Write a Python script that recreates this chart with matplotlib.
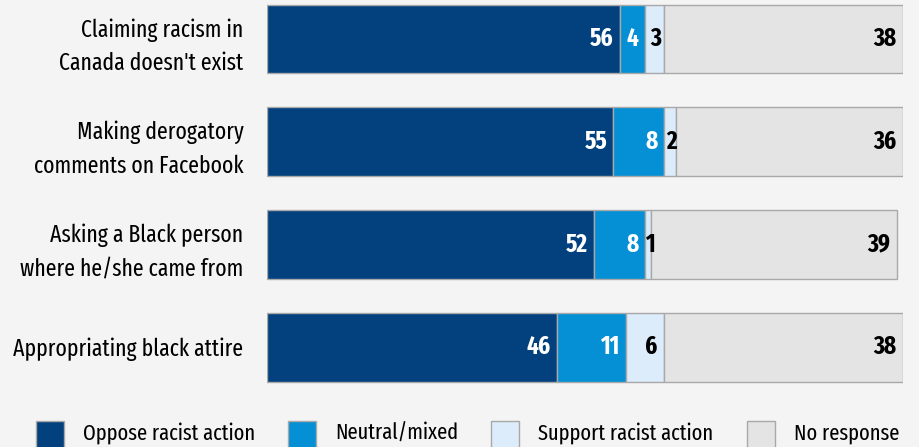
import matplotlib
matplotlib.use("Agg")
import matplotlib.pyplot as plt
from matplotlib import font_manager
from matplotlib.patches import Rectangle

# data
categories = [
    "Claiming racism in\nCanada doesn't exist",
    "Making derogatory\ncomments on Facebook",
    "Asking a Black person\nwhere he/she came from",
    "Appropriating black attire",
]
series_names = ["Oppose racist action", "Neutral/mixed", "Support racist action", "No response"]
oppose = [56, 55, 52, 46]
neutral = [4, 8, 8, 11]
support = [3, 2, 1, 6]
no_response = [38, 36, 39, 38]

colors = ["#02407e", "#0590d6", "#dcecfb", "#e4e4e4"]
label_colors = ["white", "white", "black", "black"]

# condensed face, closest to the original's Myriad Condensed
available = {f.name for f in font_manager.fontManager.ttflist}
family = "DejaVu Sans"
for name in ["Myriad Pro Cond", "Fira Sans Extra Condensed", "Fira Sans Condensed",
             "PT Sans Narrow", "Open Sans Condensed", "Roboto Condensed",
             "Liberation Sans Narrow", "Archivo Narrow"]:
    if name in available:
        family = name
        break
plt.rcParams["font.family"] = [family, "DejaVu Sans"]

bg = "#f4f4f4"
W, H = 920, 447
fig = plt.figure(figsize=(W / 100, H / 100), dpi=100, facecolor=bg)
ax = fig.add_axes([267 / W, 1 - 400 / H, (903 - 267) / W, 400 / H])
ax.set_facecolor(bg)

values = [oppose, neutral, support, no_response]
ypos = list(range(len(categories)))
left = [0] * len(categories)
for vals, col, lcol in zip(values, colors, label_colors):
    bars = ax.barh(ypos, vals, left=left, height=0.67, color=col,
                   edgecolor="#a8a8a8", linewidth=1.0)
    for b, v in zip(bars, vals):
        yc = b.get_y() + b.get_height() / 2
        if v <= 3:
            # too thin for the number: centre it on the segment
            ax.annotate(str(v), (b.get_x() + b.get_width() / 2, yc), xytext=(1, 0),
                        textcoords="offset points", ha="center", va="center",
                        color=lcol, fontsize=18, fontweight="bold")
        else:
            ax.annotate(str(v), (b.get_x() + b.get_width(), yc), xytext=(-4.5, 0),
                        textcoords="offset points", ha="right", va="center",
                        color=lcol, fontsize=18, fontweight="bold")
    left = [l + v for l, v in zip(left, vals)]

ax.set_xlim(0, 101)
ax.set_ylim(3.515, -0.38)
ax.set_yticks(ypos)
ax.set_yticklabels(categories, fontsize=17, linespacing=1.55)
ax.tick_params(axis="y", length=0, pad=17)
ax.set_xticks([])
for s in ax.spines.values():
    s.set_visible(False)

# legend along the bottom edge (partly clipped, as in the source)
legend_x = [36, 288, 491, 747]
for x, name, col in zip(legend_x, series_names, colors):
    fig.add_artist(Rectangle((x / W, 1 - 449 / H), 28 / W, 28 / H, transform=fig.transFigure,
                             facecolor=col, edgecolor="#a8a8a8", linewidth=1.0))
    fig.text((x + 47) / W, 1 - 440 / H, name, fontsize=16, ha="left", va="baseline")

fig.savefig("out.png", dpi=100, facecolor=bg)
